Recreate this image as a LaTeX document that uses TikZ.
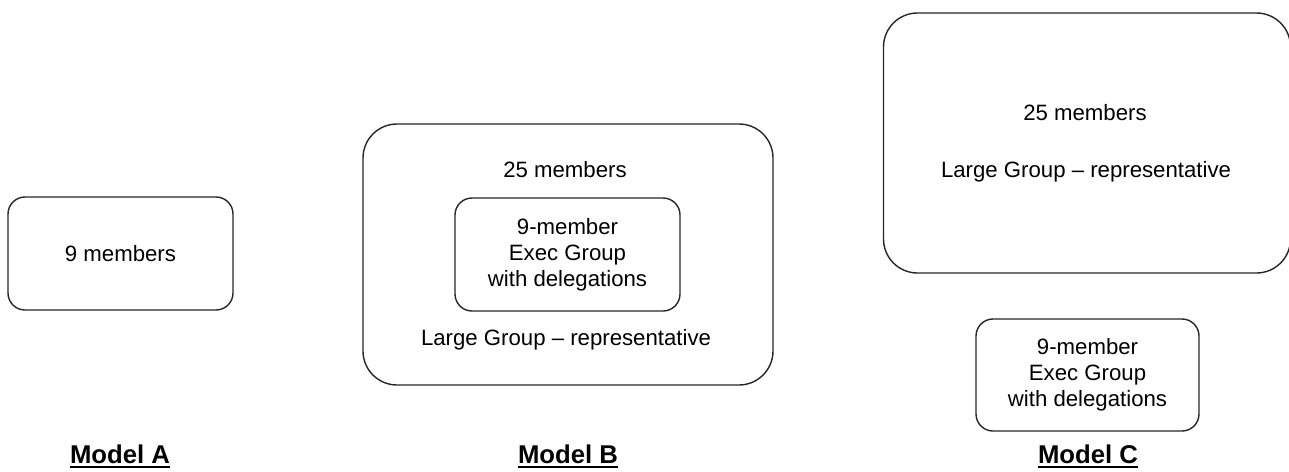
\documentclass[tikz,border=0pt]{standalone}
\usepackage{fontspec}
\setmainfont{Liberation Sans}
\begin{document}
\begin{tikzpicture}[x=1pt,y=-1pt,
  box/.style={draw=black!85, line width=1.4pt, rounded corners=#1, inner sep=0pt, outer sep=0pt, align=center,
    font=\fontsize{22.2}{25.8}\selectfont},
  box/.default=17pt,
  txt/.style={font=\fontsize{22.2}{25.8}\selectfont, inner sep=0pt, anchor=base},
  lbl/.style={font=\fontsize{25.7}{30}\selectfont\bfseries, inner sep=0pt, anchor=base},
  uline/.style={line width=2pt, black}]
\useasboundingbox (0,0) rectangle (1289,471);

% Model A
\node[box, minimum width=225pt, minimum height=113pt] (a) at (120.5,253.5) {9 members};
\node[lbl] (la) at (120,463) {Model A};
\draw[uline] ([yshift=-4pt]la.base west) -- ([yshift=-4pt]la.base east);

% Model B
\node[box=34pt, minimum width=410pt, minimum height=261pt] (bo) at (568,254.5) {};
\node[txt] (b25) at (565,177) {25 members};
\node[box, minimum width=225pt, minimum height=113pt] (bi) at (567.5,254.5) {9-member\\Exec Group\\with delegations};
\node[txt] (blg) at (566,345) {Large Group – representative};
\node[lbl] (lb) at (568,463) {Model B};
\draw[uline] ([yshift=-4pt]lb.base west) -- ([yshift=-4pt]lb.base east);

% Model C
\node[box=34pt, minimum width=407pt, minimum height=260pt] (co) at (1087,143) {};
\node[txt] (c25) at (1085,120.7) {25 members};
\node[txt] (clg) at (1086,177.7) {Large Group – representative};
\node[box, minimum width=223pt, minimum height=112pt] (ci) at (1087.5,375) {9-member\\Exec Group\\with delegations};
\node[lbl] (lc) at (1088,463) {Model C};
\draw[uline] ([yshift=-4pt]lc.base west) -- ([yshift=-4pt]lc.base east);
\end{tikzpicture}
\end{document}
